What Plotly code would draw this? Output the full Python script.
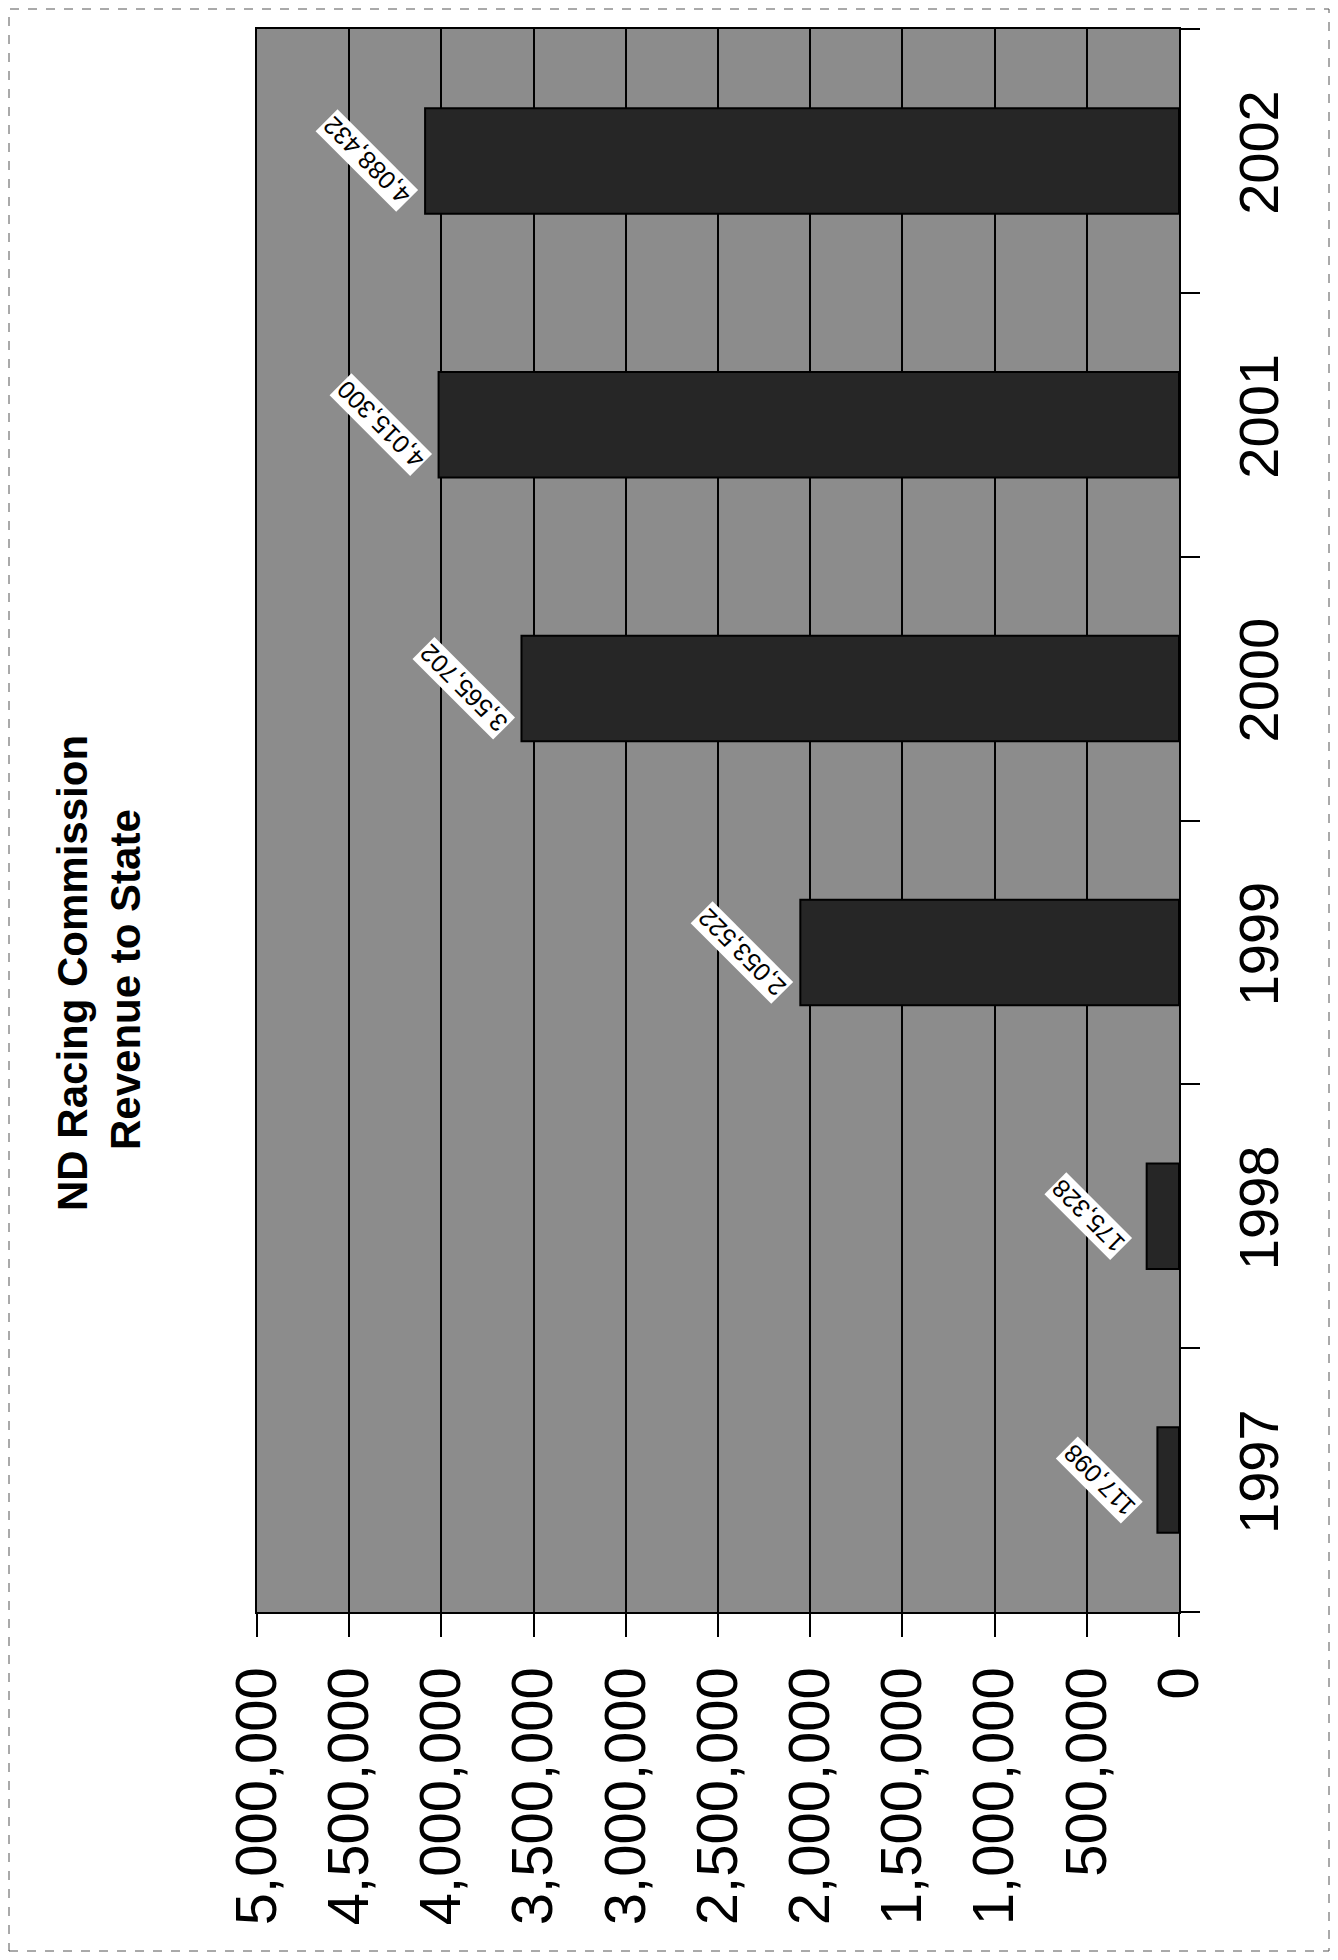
import plotly.graph_objects as go

years = ["1997", "1998", "1999", "2000", "2001", "2002"]
revenue = [117098, 175328, 2053522, 3565702, 4015300, 4088432]
value_ticks = [0, 500000, 1000000, 1500000, 2000000, 2500000,
               3000000, 3500000, 4000000, 4500000, 5000000]
title_lines = ["ND Racing Commission", "Revenue to State"]

# figure is drawn inside the page body (8px default body margin)
W, H = 1322, 1944
L, R, T, B = 249, 1171, 21, 1604
PW, PH = R - L, B - T


def px(x):
    return (x - L) / PW


def py(y):
    return (B - y) / PH


FONT = "Liberation Sans, Arial, sans-serif"

fig = go.Figure()
fig.add_trace(go.Bar(
    x=revenue, y=years, orientation="h", width=0.4,
    marker=dict(color="#262626", line=dict(color="black", width=2)),
    showlegend=False, hoverinfo="skip",
))

for i, v in enumerate(revenue):
    fig.add_annotation(
        x=v, y=i, xref="x", yref="y", text=f"{v:,}",
        showarrow=False, textangle=-135, xshift=-58,
        xanchor="center", yanchor="middle",
        font=dict(family=FONT, size=25, color="black"),
        bgcolor="white", borderpad=1,
    )

for line, xc, yc in zip(title_lines, [64, 117], [965, 972]):
    fig.add_annotation(
        xref="paper", yref="paper", x=px(xc), y=py(yc),
        xanchor="center", yanchor="middle",
        text="<b>" + line + "</b>",
        showarrow=False, textangle=-90,
        font=dict(family=FONT, size=42, color="black"),
    )

# page border (scanned page edge)
fig.add_shape(
    type="rect", xref="paper", yref="paper",
    x0=px(1), x1=px(1321), y0=py(1943), y1=py(1),
    line=dict(color="#555555", width=1, dash="dash"),
)

fig.update_layout(
    width=W, height=H,
    margin=dict(l=L, r=W - R, t=T, b=H - B),
    paper_bgcolor="white", plot_bgcolor="#8c8c8c",
    font=dict(family=FONT, color="black"),
)

fig.update_xaxes(
    range=[5000000, 0], tickvals=value_ticks, tickformat=",d",
    tickangle=-90, tickfont=dict(size=58, family=FONT),
    ticks="outside", ticklen=23, tickwidth=1.5, tickcolor="black",
    ticklabelstandoff=7,
    showgrid=True, gridcolor="black", gridwidth=1.5,
    showline=True, linecolor="black", linewidth=2, mirror=True,
    zeroline=False,
)
fig.update_yaxes(
    type="category", categoryorder="array", categoryarray=years,
    range=[-0.5, 5.5],
    side="right", tickangle=-90, tickfont=dict(size=56, family=FONT),
    ticks="outside", tickson="boundaries", ticklen=19, tickwidth=1.5,
    tickcolor="black", ticklabelstandoff=30,
    showgrid=False,
    showline=True, linecolor="black", linewidth=2, mirror=True,
)

fig.write_html("out.html")
